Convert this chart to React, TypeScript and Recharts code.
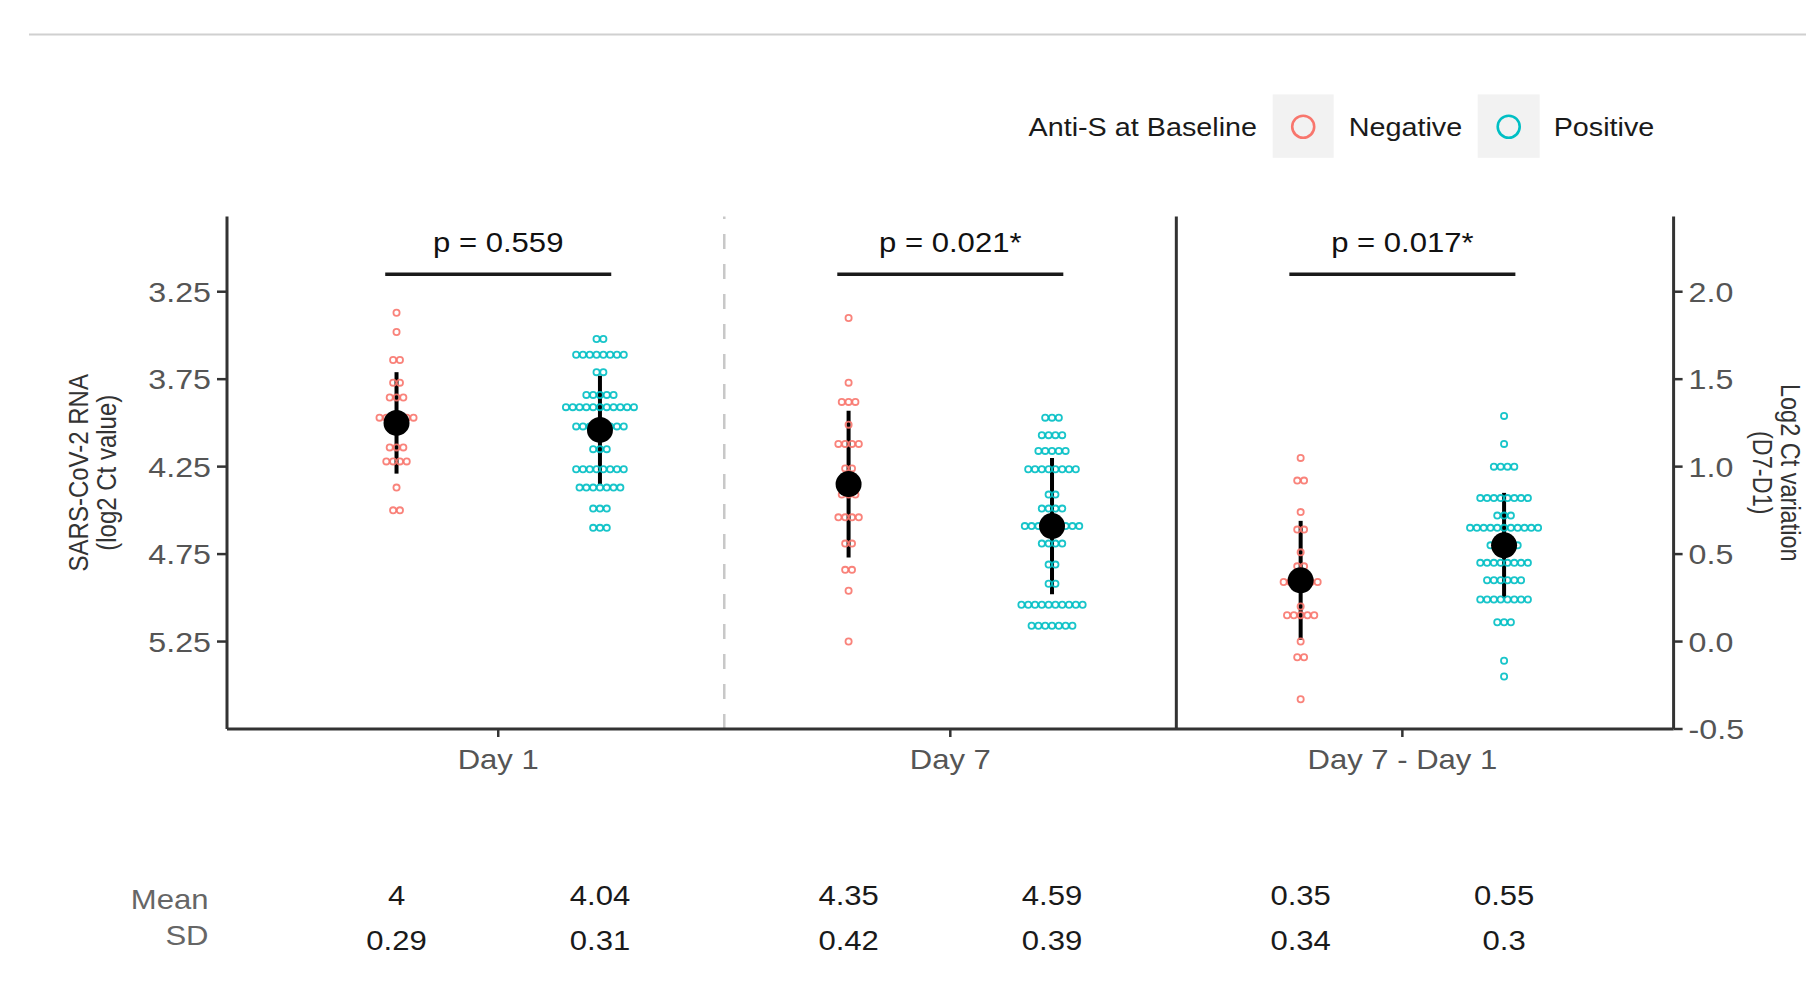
import React from 'react';
import { ScatterChart, Scatter, XAxis, YAxis, ErrorBar, ReferenceLine, ReferenceDot } from 'recharts';

// ---------------- data ----------------
const categories = ['Day 1', 'Day 7', 'Day 7 - Day 1'];
const statusLabels = ['Negative', 'Positive'];
const legendTitle = 'Anti-S at Baseline';
const leftTicks = [3.25, 3.75, 4.25, 4.75, 5.25];
const rightTicks = [-0.5, 0, 0.5, 1.0, 1.5, 2.0];

// dot-plot rows: [value, number of stacked dots]
const negDay1Rows = [[3.37, 1], [3.48, 1], [3.64, 2], [3.77, 2], [3.855, 3], [3.97, 6], [4.14, 3], [4.22, 4], [4.37, 1], [4.5, 2]];
const posDay1Rows = [[3.52, 2], [3.61, 8], [3.71, 2], [3.84, 5], [3.91, 11], [4.02, 8], [4.15, 3], [4.265, 8], [4.37, 7], [4.49, 3], [4.6, 3]];
const negDay7Rows = [[3.4, 1], [3.77, 1], [3.88, 3], [4.01, 1], [4.12, 4], [4.26, 2], [4.41, 3], [4.54, 4], [4.69, 2], [4.84, 2], [4.96, 1], [5.25, 1]];
const posDay7Rows = [[3.97, 3], [4.07, 4], [4.16, 5], [4.265, 8], [4.41, 2], [4.49, 4], [4.59, 9], [4.69, 4], [4.81, 2], [4.92, 2], [5.04, 10], [5.16, 7]];
const negDiffRows = [[1.05, 1], [0.92, 2], [0.74, 1], [0.64, 2], [0.51, 1], [0.43, 2], [0.34, 6], [0.2, 1], [0.15, 5], [0.0, 1], [-0.09, 2], [-0.33, 1]];
const posDiffRows = [[1.29, 1], [1.13, 1], [1.0, 4], [0.82, 8], [0.72, 3], [0.65, 11], [0.55, 5], [0.45, 8], [0.35, 6], [0.24, 8], [0.11, 3], [-0.11, 1], [-0.2, 1]];

const means = [4, 4.04, 4.35, 4.59, 0.35, 0.55];
const sds = [0.29, 0.31, 0.42, 0.39, 0.34, 0.3];
const pValues = ['p = 0.559', 'p = 0.021*', 'p = 0.017*'];
const bracketLeft = 3.15;   // left-axis value of the comparison brackets
const bracketRight = 2.1;   // right-axis value of the comparison bracket

// ---------------- layout / style ----------------
const W = 1806;
const H = 996;
const FONT = '"Liberation Sans", Arial, Helvetica, sans-serif';
const STRETCH = 1.15;
const NEG = '#F8766D';
const POS = '#00BFC4';
const DODGE = 0.225;
const PITCH = 6.8;

const groupX = (i: number) => Math.floor(i / 2) + 1 + (i % 2 ? DODGE : -DODGE);

function expand(rows: number[][], x: number) {
  const pts: any[] = [];
  rows.forEach(([v, n]) => {
    for (let k = 0; k < n; k++) pts.push({ x, y: v, slot: k - (n - 1) / 2 });
  });
  return pts;
}

const negDay1 = expand(negDay1Rows, groupX(0));
const posDay1 = expand(posDay1Rows, groupX(1));
const negDay7 = expand(negDay7Rows, groupX(2));
const posDay7 = expand(posDay7Rows, groupX(3));
const negDiff = expand(negDiffRows, groupX(4));
const posDiff = expand(posDiffRows, groupX(5));

const leftMeans = [0, 1, 2, 3].map((i) => ({ x: groupX(i), y: means[i], sd: sds[i] }));
const rightMeans = [4, 5].map((i) => ({ x: groupX(i), y: means[i], sd: sds[i] }));
const statTicks = [0, 1, 2, 3, 4, 5].map(groupX);

function SText(props: any) {
  const { x, y, size, fill, anchor = 'middle', rotate = 0, children } = props;
  const tr = `translate(${x},${y}) scale(${STRETCH},1)` + (rotate ? ` rotate(${rotate})` : '');
  return (
    <text transform={tr} textAnchor={anchor} fontSize={size} fill={fill} fontFamily={FONT}>
      {children}
    </text>
  );
}

const dotShape = (color: string) => (p: any) => {
  if (p.cx == null || p.cy == null) return <g />;
  return <circle cx={p.cx + p.payload.slot * PITCH} cy={p.cy} r={3.1} fill="none" stroke={color} strokeWidth={1.8} strokeOpacity={0.9} />;
};
const meanShape = (p: any) => {
  if (p.cx == null || p.cy == null) return <g />;
  return <circle cx={p.cx} cy={p.cy} r={13} fill="#000" />;
};

const LeftTick = (p: any) => (
  <SText x={p.x} y={p.y + 10} size={28} fill="#555" anchor="end">{Number(p.payload.value).toFixed(2)}</SText>
);
const RightTick = (p: any) => (
  <SText x={p.x} y={p.y + 10} size={28} fill="#555" anchor="start">{Number(p.payload.value).toFixed(1)}</SText>
);
const BottomTick = (p: any) => (
  <SText x={p.x} y={p.y + 30} size={27} fill="#555">{categories[Math.round(p.payload.value) - 1]}</SText>
);
const StatTick = (p: any) => {
  let idx = statTicks.findIndex((t) => Math.abs(t - p.payload.value) < 1e-6);
  if (idx < 0) idx = p.index ?? 0;
  return (
    <g>
      <SText x={p.x} y={p.y + 84} size={27} fill="#1a1a1a">{String(means[idx])}</SText>
      <SText x={p.x} y={p.y + 129} size={27} fill="#1a1a1a">{String(sds[idx])}</SText>
    </g>
  );
};

const statLabel = (p: any) => {
  const vb = p.viewBox || { x: 227, y: 819 };
  return (
    <g>
      <SText x={vb.x - 18.5} y={vb.y + 90} size={27} fill="#666" anchor="end">Mean</SText>
      <SText x={vb.x - 18.5} y={vb.y + 126} size={27} fill="#666" anchor="end">SD</SText>
    </g>
  );
};

const leftTitle = (p: any) => {
  const vb = p.viewBox || { x: 0, y: 216.5, width: 227, height: 512.5 };
  const cy = vb.y + vb.height / 2;
  return (
    <g>
      <SText x={vb.x + 88} y={cy} size={24} fill="#333" rotate={-90}>SARS-CoV-2 RNA</SText>
      <SText x={vb.x + 116} y={cy} size={24} fill="#333" rotate={-90}>(log2 Ct value)</SText>
    </g>
  );
};
const rightTitle = (p: any) => {
  const vb = p.viewBox || { x: 1673.6, y: 216.5, width: 132.4, height: 512.5 };
  const cy = vb.y + vb.height / 2;
  return (
    <g>
      <SText x={vb.x + 107} y={cy} size={23.5} fill="#333" rotate={90}>Log2 Ct variation</SText>
      <SText x={vb.x + 79} y={cy} size={23.5} fill="#333" rotate={90}>(D7-D1)</SText>
    </g>
  );
};

const pLabel = (text: string) => (p: any) => {
  const vb = p.viewBox || { x: 0, y: 0 };
  return <SText x={vb.x} y={vb.y - 22} size={27} fill="#111">{text}</SText>;
};

export default function App() {
  return (
    <div style={{ position: 'absolute', left: 0, top: 0, width: W, height: H, background: '#fff' }}>
      <ScatterChart width={W} height={H} margin={{ top: 216.5, right: 0, bottom: 27, left: 0 }}>
        <XAxis
          xAxisId="main"
          dataKey="x"
          type="number"
          domain={[0.4, 3.6]}
          ticks={[1, 2, 3]}
          interval={0}
          allowDataOverflow
          height={90}
          tickSize={8}
          tick={<BottomTick />}
          axisLine={{ stroke: '#333', strokeWidth: 3 }}
          tickLine={{ stroke: '#333', strokeWidth: 2.5 }}
        />
        <XAxis
          xAxisId="stats"
          dataKey="x"
          type="number"
          domain={[0.4, 3.6]}
          ticks={statTicks}
          interval={0}
          allowDataOverflow
          height={150}
          tickSize={0}
          axisLine={false}
          tickLine={false}
          tick={<StatTick />}
          label={statLabel}
        />
        <YAxis
          yAxisId="left"
          dataKey="y"
          type="number"
          orientation="left"
          reversed
          domain={[2.82, 5.75]}
          ticks={leftTicks}
          interval={0}
          allowDataOverflow
          width={227}
          tickSize={10}
          tickMargin={6}
          tick={<LeftTick />}
          axisLine={{ stroke: '#333', strokeWidth: 3 }}
          tickLine={{ stroke: '#333', strokeWidth: 2.5 }}
          label={leftTitle}
        />
        <YAxis
          yAxisId="right"
          dataKey="y"
          type="number"
          orientation="right"
          domain={[-0.5, 2.43]}
          ticks={rightTicks}
          interval={0}
          allowDataOverflow
          width={132.4}
          tickSize={9}
          tickMargin={6}
          tick={<RightTick />}
          axisLine={{ stroke: '#333', strokeWidth: 3 }}
          tickLine={{ stroke: '#333', strokeWidth: 2.5 }}
          label={rightTitle}
        />

        <ReferenceLine xAxisId="main" yAxisId="left" x={1.5} stroke="#c8c8c8" strokeWidth={2.5} strokeDasharray="15 15" />
        <ReferenceLine xAxisId="main" yAxisId="left" x={2.5} stroke="#333" strokeWidth={3} />

        <ReferenceLine xAxisId="main" yAxisId="left" segment={[{ x: 0.75, y: bracketLeft }, { x: 1.25, y: bracketLeft }]} stroke="#1a1a1a" strokeWidth={3.5} />
        <ReferenceLine xAxisId="main" yAxisId="left" segment={[{ x: 1.75, y: bracketLeft }, { x: 2.25, y: bracketLeft }]} stroke="#1a1a1a" strokeWidth={3.5} />
        <ReferenceLine xAxisId="main" yAxisId="right" segment={[{ x: 2.75, y: bracketRight }, { x: 3.25, y: bracketRight }]} stroke="#1a1a1a" strokeWidth={3.5} />
        <ReferenceDot xAxisId="main" yAxisId="left" x={1} y={bracketLeft} r={0} fill="none" stroke="none" label={pLabel(pValues[0])} />
        <ReferenceDot xAxisId="main" yAxisId="left" x={2} y={bracketLeft} r={0} fill="none" stroke="none" label={pLabel(pValues[1])} />
        <ReferenceDot xAxisId="main" yAxisId="right" x={3} y={bracketRight} r={0} fill="none" stroke="none" label={pLabel(pValues[2])} />

        <Scatter name="negDay1" xAxisId="main" yAxisId="left" data={negDay1} shape={dotShape(NEG)} isAnimationActive={false} />
        <Scatter name="posDay1" xAxisId="main" yAxisId="left" data={posDay1} shape={dotShape(POS)} isAnimationActive={false} />
        <Scatter name="negDay7" xAxisId="main" yAxisId="left" data={negDay7} shape={dotShape(NEG)} isAnimationActive={false} />
        <Scatter name="posDay7" xAxisId="main" yAxisId="left" data={posDay7} shape={dotShape(POS)} isAnimationActive={false} />
        <Scatter name="negDiff" xAxisId="main" yAxisId="right" data={negDiff} shape={dotShape(NEG)} isAnimationActive={false} />
        <Scatter name="posDiff" xAxisId="main" yAxisId="right" data={posDiff} shape={dotShape(POS)} isAnimationActive={false} />

        <Scatter name="meanLeft" xAxisId="main" yAxisId="left" data={leftMeans} shape={meanShape} isAnimationActive={false}>
          <ErrorBar dataKey="sd" direction="y" width={0} stroke="#000" strokeWidth={4} isAnimationActive={false} />
        </Scatter>
        <Scatter name="meanRight" xAxisId="main" yAxisId="right" data={rightMeans} shape={meanShape} isAnimationActive={false}>
          <ErrorBar dataKey="sd" direction="y" width={0} stroke="#000" strokeWidth={4} isAnimationActive={false} />
        </Scatter>
      </ScatterChart>

      <svg width={W} height={H} style={{ position: 'absolute', left: 0, top: 0, pointerEvents: 'none' }}>
        <line x1={29} x2={W} y1={34.5} y2={34.5} stroke="#d0d0d0" strokeWidth={2} />
        <SText x={1028.5} y={135.7} size={25} fill="#1a1a1a" anchor="start">{legendTitle}</SText>
        <rect x={1272.7} y={94.4} width={61} height={63.4} fill="#f2f2f2" />
        <circle cx={1303.2} cy={126.7} r={11} fill="none" stroke={NEG} strokeWidth={2.6} />
        <SText x={1348.7} y={135.7} size={25} fill="#1a1a1a" anchor="start">{statusLabels[0]}</SText>
        <rect x={1477.7} y={94.4} width={62} height={63.4} fill="#f2f2f2" />
        <circle cx={1508.7} cy={126.7} r={11} fill="none" stroke={POS} strokeWidth={2.6} />
        <SText x={1553.7} y={135.7} size={25} fill="#1a1a1a" anchor="start">{statusLabels[1]}</SText>
      </svg>
    </div>
  );
}
